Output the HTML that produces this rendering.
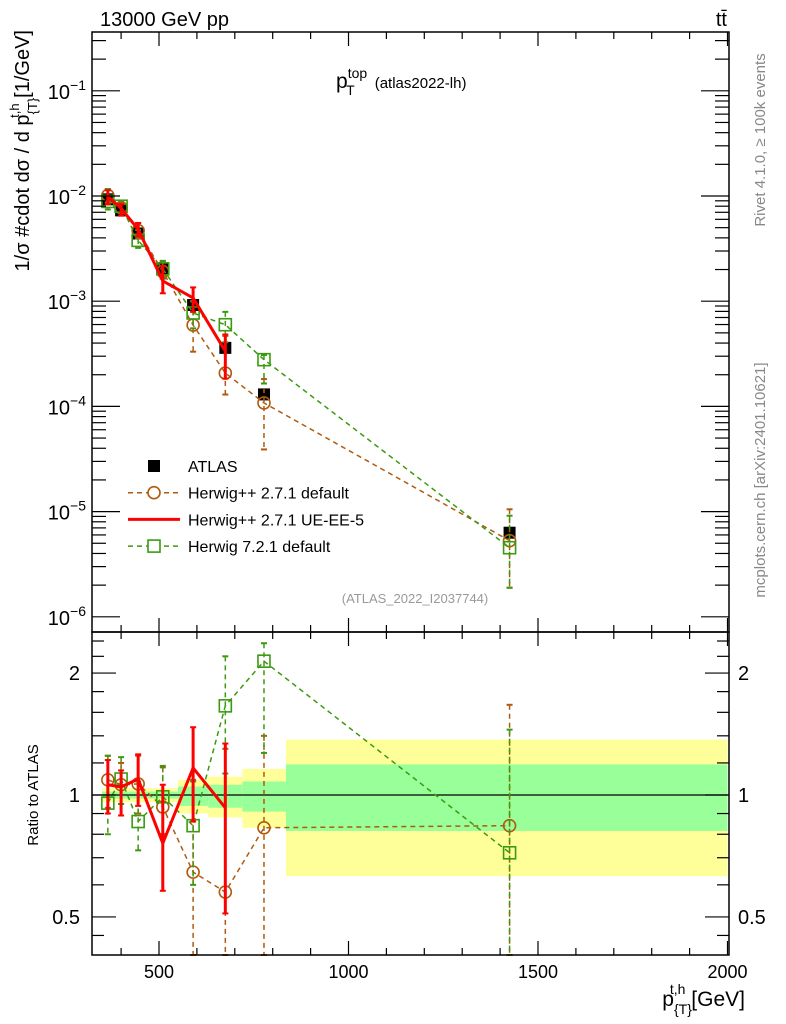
<!DOCTYPE html>
<html><head><meta charset="utf-8"><style>
html,body{margin:0;padding:0;background:#fff}
svg{display:block;font-family:"Liberation Sans",sans-serif}
</style></head><body>
<svg id="c" width="786" height="1024" viewBox="0 0 786 1024" xmlns="http://www.w3.org/2000/svg">
<rect x="0" y="0" width="786" height="1024" fill="#fff"/>
<g id="bands"></g>
<g id="marks"></g>
<g id="axes"></g>
<text x="100" y="26" font-size="20">13000 GeV pp</text>
<text x="727" y="26" font-size="20" text-anchor="end">tt̄</text>
<text x="336" y="88" font-size="21">p<tspan font-size="14" dy="-10">top</tspan><tspan font-size="14" dx="-21" dy="17">T</tspan><tspan font-size="15" dx="20" dy="-7">(atlas2022-lh)</tspan></text>
<text x="415" y="603" font-size="13" fill="#999" text-anchor="middle">(ATLAS_2022_I2037744)</text>
<text transform="translate(765,140) rotate(-90)" font-size="15" fill="#888" text-anchor="middle">Rivet 4.1.0, ≥ 100k events</text>
<text transform="translate(765,480) rotate(-90)" font-size="15" fill="#888" text-anchor="middle">mcplots.cern.ch [arXiv:2401.10621]</text>
<text transform="translate(29,30) rotate(-90)" font-size="20" text-anchor="end">1/σ #cdot dσ / d p<tspan font-size="13" dy="8">{T}</tspan><tspan font-size="13" dx="-20" dy="-18">t,h</tspan><tspan dy="10"> [1/GeV]</tspan></text>
<text transform="translate(38,795) rotate(-90)" font-size="15" text-anchor="middle">Ratio to ATLAS</text>
<text x="745" y="1006" font-size="21" text-anchor="end">p<tspan font-size="14" dy="8">{T}</tspan><tspan font-size="14" dx="-22" dy="-20">t,h</tspan><tspan dy="12"> [GeV]</tspan></text>
<g id="legend"></g>
</svg>
<script>
// ---- data ----
const binCenters = [365, 400, 445, 510, 590, 675, 777, 1425];
const binEdges = [350, 380, 420, 470, 550, 630, 720, 835, 2000];
const atlasValues = [9.3e-3, 7.3e-3, 4.4e-3, 2.05e-3, 9.2e-4, 3.6e-4, 1.3e-4, 6.3e-6];
const bandYellowUp = [1.04, 1.04, 1.04, 1.04, 1.09, 1.11, 1.16, 1.37];
const bandYellowDn = [0.96, 0.96, 0.96, 0.96, 0.90, 0.88, 0.83, 0.63];
const bandGreenUp = [1.02, 1.02, 1.02, 1.02, 1.05, 1.06, 1.08, 1.19];
const bandGreenDn = [0.98, 0.98, 0.98, 0.98, 0.94, 0.93, 0.91, 0.815];
const hppRatio = [1.09, 1.06, 1.065, 0.934, 0.645, 0.576, 0.83, 0.84];
const hppUp = [1.25, 1.2, 1.25, 1.17, 1.09, 1.3, 1.4, 1.67];
const hppDn = [0.93, 0.95, 0.9, 0.8, 0.36, 0.36, 0.3, 0.3];
const ueRatio = [1.06, 1.047, 1.095, 0.76, 1.166, 0.93];
const ueUp = [1.22, 1.15, 1.26, 1.06, 1.47, 1.34];
const ueDn = [0.90, 0.89, 0.94, 0.58, 0.86, 0.51];
const h7Ratio = [0.955, 1.095, 0.86, 0.99, 0.84, 1.66, 2.14, 0.72];
const h7Up = [1.25, 1.24, 1.08, 1.18, 1.08, 2.2, 2.37, 1.45];
const h7Dn = [0.80, 0.95, 0.73, 0.80, 0.60, 1.13, 1.27, 0.3];
const xTicks = [500, 1000, 1500, 2000];
const yDecades = [-6, -5, -4, -3, -2, -1];
const ratioTicks = [0.5, 1, 2];

// ---- axes ----
const L = 92, R = 729, T = 32, M = 632, B = 955;
const X = g => 159 + (g - 500) * 0.379;
const Y = v => 196 - (Math.log10(v) + 2) * 105.2;
const RY = r => 795 - Math.log10(r) * 405;
const NS = "http://www.w3.org/2000/svg";
function mk(tag, attrs, parent) {
  const e = document.createElementNS(NS, tag);
  for (const k in attrs) e.setAttribute(k, attrs[k]);
  parent.appendChild(e); return e;
}
const ax = document.getElementById('axes');
const bands = document.getElementById('bands');
const marks = document.getElementById('marks');
const leg = document.getElementById('legend');

for (let i = 0; i < binCenters.length; i++) {
  const x0 = X(binEdges[i]), x1 = X(binEdges[i + 1]);
  const y = mk('rect', {x: x0, y: RY(bandYellowUp[i]), width: x1 - x0, height: RY(bandYellowDn[i]) - RY(bandYellowUp[i]), fill: '#ffff99'}, bands);
  
  
  const g = mk('rect', {x: x0, y: RY(bandGreenUp[i]), width: x1 - x0, height: RY(bandGreenDn[i]) - RY(bandGreenUp[i]), fill: '#99ff99'}, bands);
  
  
}
mk('line', {x1: L, x2: R, y1: RY(1), y2: RY(1), stroke: '#000', 'stroke-width': 1.2}, bands);

const f1 = mk('rect', {x: L, y: T, width: R - L, height: M - T, fill: 'none', stroke: '#000', 'stroke-width': 1.5}, ax);


const f2 = mk('rect', {x: L, y: M, width: R - L, height: B - M, fill: 'none', stroke: '#000', 'stroke-width': 1.5}, ax);



for (let g = 400; g <= 2000; g += 100) {
  const x = X(g); if (x < L) continue;
  const major = g % 500 === 0;
  const len = major ? 14 : 7;
  for (const [y0, dir] of [[B, -1], [M, 1], [M, -1], [T, 1]]) {
    mk('line', {x1: x, x2: x, y1: y0, y2: y0 + dir * len, stroke: '#000', 'stroke-width': 1.2}, ax);
  }
}
xTicks.forEach(g => {
  const t = mk('text', {x: X(g), y: 978, 'font-size': 18, 'text-anchor': 'middle'}, ax);
  t.textContent = g;
  
  
});
yDecades.forEach(d => {
  for (let m = 1; m <= 9; m++) {
    const v = m * Math.pow(10, d), y = Y(v);
    if (y < T || y > M) continue;
    const len = m === 1 ? 28 : 14;
    mk('line', {x1: L, x2: L + len, y1: y, y2: y, stroke: '#000', 'stroke-width': 1.2}, ax);
    mk('line', {x1: R, x2: R - len, y1: y, y2: y, stroke: '#000', 'stroke-width': 1.2}, ax);
  }
  const t = mk('text', {x: 86, y: Y(Math.pow(10, d)) + 8, 'font-size': 20, 'text-anchor': 'end'}, ax);
  t.innerHTML = '10<tspan font-size="14" dy="-9">' + (d < 0 ? '−' : '') + Math.abs(d) + '</tspan>';
  
  
});
[0.45, 0.5, 0.6, 0.7, 0.8, 0.9, 1, 1.2, 1.4, 1.6, 1.8, 2, 2.2, 2.4].forEach(r => {
  const y = RY(r);
  const len = ratioTicks.includes(r) ? 24 : 12;
  mk('line', {x1: L, x2: L + len, y1: y, y2: y, stroke: '#000', 'stroke-width': 1.2}, ax);
  mk('line', {x1: R, x2: R - len, y1: y, y2: y, stroke: '#000', 'stroke-width': 1.2}, ax);
});
ratioTicks.forEach(r => {
  const t = mk('text', {x: 80, y: RY(r) + 7, 'font-size': 20, 'text-anchor': 'end'}, ax);
  t.textContent = r;
  
  
  const t2 = mk('text', {x: 738, y: RY(r) + 7, 'font-size': 20}, ax);
  t2.textContent = r;
  
  
});

const clipY = (y, lo, hi) => Math.max(lo, Math.min(hi, y));
function series(ratio, up, dn, color, dash, marker, name) {
  const g = mk('g', {}, marks);
  
  
  const w = dash ? 1.5 : 3;
  const da = dash ? '5,4' : 'none';
  const mainPts = ratio.map((r, i) => [X(binCenters[i]), Y(r * atlasValues[i])]);
  const ratPts = ratio.map((r, i) => [X(binCenters[i]), RY(r)]);
  [[mainPts, v => Y(v), T, M, true], [ratPts, v => RY(v), M, B, false]].forEach(([pts, fy, lo, hi, isMain]) => {
    mk('polyline', {points: pts.map(p => p.join(',')).join(' '), fill: 'none', stroke: color, 'stroke-width': w, 'stroke-dasharray': da}, g);
    pts.forEach((p, i) => {
      const yu = clipY(isMain ? fy(up[i] * atlasValues[i]) : fy(up[i]), lo, hi);
      const yd = clipY(isMain ? fy(dn[i] * atlasValues[i]) : fy(dn[i]), lo, hi);
      mk('line', {x1: p[0], x2: p[0], y1: yu, y2: yd, stroke: color, 'stroke-width': w, 'stroke-dasharray': da}, g);
      mk('line', {x1: p[0] - 3, x2: p[0] + 3, y1: yu, y2: yu, stroke: color, 'stroke-width': 2}, g);
      mk('line', {x1: p[0] - 3, x2: p[0] + 3, y1: yd, y2: yd, stroke: color, 'stroke-width': 2}, g);
      if (marker === 'circle') {
        const c = mk('circle', {cx: p[0], cy: p[1], r: 6, fill: 'none', stroke: color, 'stroke-width': 1.6}, g);
        
        
      } else if (marker === 'square') {
        const s = mk('rect', {x: p[0] - 6, y: p[1] - 6, width: 12, height: 12, fill: 'none', stroke: color, 'stroke-width': 1.6}, g);
        
        
      }
    });
  });
}
const ag = mk('g', {}, marks);


atlasValues.forEach((v, i) => {
  const s = mk('rect', {x: X(binCenters[i]) - 6, y: Y(v) - 6, width: 12, height: 12, fill: '#000'}, ag);
  
  
});
series(hppRatio, hppUp, hppDn, '#b05a10', true, 'circle', 'herwigpp-default-series');
series(h7Ratio, h7Up, h7Dn, '#3a9a10', true, 'square', 'herwig7-default-series');
series(ueRatio, ueUp, ueDn, '#ff0000', false, 'none', 'herwigpp-ue-ee-5-series');

const legItems = [
  ['ATLAS', null, 'atlas'],
  ['Herwig++ 2.7.1 default', '#b05a10', 'circle'],
  ['Herwig++ 2.7.1 UE-EE-5', '#ff0000', 'line'],
  ['Herwig 7.2.1 default', '#3a9a10', 'square']
];
legItems.forEach((it, i) => {
  const y = 466 + i * 26.7;
  const g = mk('g', {}, leg);
  
  
  if (it[2] === 'atlas') mk('rect', {x: 148, y: y - 6, width: 12, height: 12, fill: '#000'}, g);
  else {
    mk('line', {x1: 128, x2: 180, y1: y, y2: y, stroke: it[1], 'stroke-width': it[2] === 'line' ? 3 : 1.5, 'stroke-dasharray': it[2] === 'line' ? 'none' : '5,4'}, g);
    if (it[2] === 'circle') mk('circle', {cx: 154, cy: y, r: 6, fill: '#fff', stroke: it[1], 'stroke-width': 1.6}, g);
    if (it[2] === 'square') mk('rect', {x: 148, y: y - 6, width: 12, height: 12, fill: '#fff', stroke: it[1], 'stroke-width': 1.6}, g);
  }
  const t = mk('text', {x: 188, y: y + 6, 'font-size': 16}, g);
  t.textContent = it[0];
});
</script>
</body></html>
